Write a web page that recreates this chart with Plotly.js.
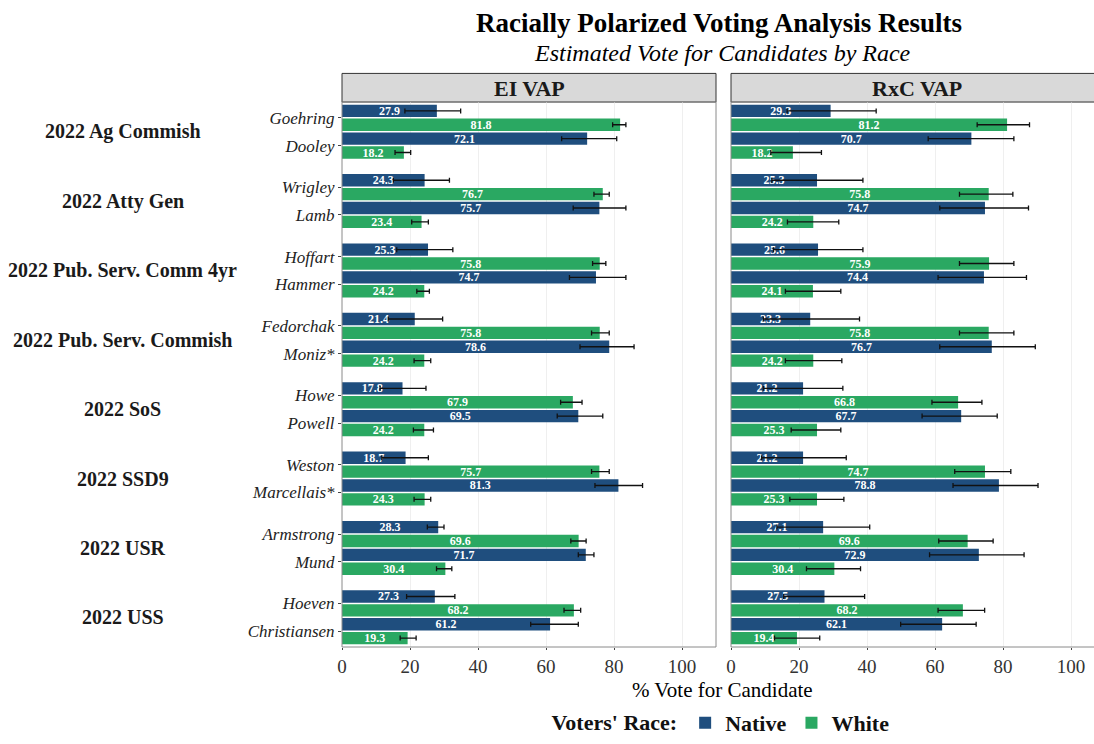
<!DOCTYPE html>
<html>
<head>
<meta charset="utf-8">
<script src="https://cdn.plot.ly/plotly-3.0.1.min.js"></script>
<style>html,body{margin:0;padding:0;background:#fff;}#chart{width:1094px;height:744px;}</style>
</head>
<body>
<div id="chart"></div>
<script>
const contests = ["2022 Ag Commish","2022 Atty Gen","2022 Pub. Serv. Comm 4yr","2022 Pub. Serv. Commish","2022 SoS","2022 SSD9","2022 USR","2022 USS"];
const candidates = ["Goehring","Dooley","Wrigley","Lamb","Hoffart","Hammer","Fedorchak","Moniz*","Howe","Powell","Weston","Marcellais*","Armstrong","Mund","Hoeven","Christiansen"];

// EI VAP
const eiNative   = [27.9,72.1, 24.3,75.7, 25.3,74.7, 21.4,78.6, 17.8,69.5, 18.7,81.3, 28.3,71.7, 27.3,61.2];
const eiNativeLo = [18.5,64.6, 15.1,68.0, 16.1,66.9, 13.6,70.0, 11.2,63.3, 11.7,74.4, 25.1,69.5, 19.0,55.5];
const eiNativeHi = [34.9,80.8, 31.6,83.5, 32.6,83.5, 29.6,85.9, 24.7,76.7, 25.4,88.4, 30.0,74.1, 33.2,69.5];
const eiWhite    = [81.8,18.2, 76.7,23.4, 75.8,24.2, 75.8,24.2, 67.9,24.2, 75.7,24.3, 69.6,30.4, 68.2,19.3];
const eiWhiteLo  = [79.6,15.6, 74.1,20.5, 73.7,22.0, 73.4,21.2, 64.3,21.0, 73.4,21.2, 67.3,27.8, 65.3,17.1];
const eiWhiteHi  = [83.5,20.2, 78.6,25.4, 77.6,25.7, 78.6,26.1, 70.6,26.9, 78.6,26.1, 71.8,32.3, 70.2,21.8];

// RxC VAP
const rxcNative   = [29.3,70.7, 25.3,74.7, 25.6,74.4, 23.3,76.7, 21.2,67.7, 21.2,78.8, 27.1,72.9, 27.5,62.1];
const rxcNativeLo = [16.5,58.0, 12.0,61.4, 12.5,60.9,  9.5,61.4,  9.5,56.2,  9.0,65.3, 13.5,58.4, 15.5,49.9];
const rxcNativeHi = [42.7,83.2, 38.8,87.5, 38.8,86.9, 37.8,89.5, 32.9,78.3, 33.9,90.3, 40.8,86.2, 39.3,72.1];
const rxcWhite    = [81.2,18.2, 75.8,24.2, 75.9,24.1, 75.8,24.2, 66.8,25.3, 74.7,25.3, 69.6,30.4, 68.2,19.4];
const rxcWhiteLo  = [72.4,11.7, 67.2,16.6, 67.2,16.0, 67.2,16.0, 59.1,17.7, 65.8,17.3, 61.1,22.2, 60.9,12.8];
const rxcWhiteHi  = [87.8,26.6, 82.9,31.7, 83.2,32.3, 83.2,32.6, 73.8,32.3, 82.3,33.2, 77.1,38.1, 74.6,26.1];

const xTicks = [0,20,40,60,80,100];

const NATIVE = '#1f4e7e';
const WHITE = '#2aa862';
const SERIF = 'Liberation Serif';

// slot positions: each contest = 4 bar slots + 1 gap slot
const nativePos = candidates.map((c,i)=>Math.floor(i/2)*5 + (i%2)*2);
const whitePos  = candidates.map((c,i)=>Math.floor(i/2)*5 + (i%2)*2 + 1);
const tickPos   = candidates.map((c,i)=>Math.floor(i/2)*5 + (i%2)*2 + 0.5);

function barTrace(vals, lo, hi, pos, name, color, xa, showleg){
  return {
    type:'bar', orientation:'h', x:vals, y:pos, width:0.9,
    name:'<b>'+name+'</b>', legendgroup:name, showlegend:showleg,
    xaxis:xa, yaxis:'y',
    marker:{color:color, line:{width:0}},
    text: vals.map(v=>v.toFixed(1)),
    texttemplate:'<b>%{text}</b>',
    textposition:'inside', insidetextanchor:'middle', constraintext:'none',
    textfont:{family:SERIF, size:12, color:'#ffffff'},
    error_x:{type:'data', symmetric:false,
      array: vals.map((v,i)=>hi[i]-v),
      arrayminus: vals.map((v,i)=>v-lo[i]),
      color:'#111111', thickness:1.3, width:2.5},
    hoverinfo:'x+name'
  };
}

const data = [
  barTrace(eiNative, eiNativeLo, eiNativeHi, nativePos, 'Native', NATIVE, 'x', true),
  barTrace(eiWhite, eiWhiteLo, eiWhiteHi, whitePos, 'White', WHITE, 'x', true),
  barTrace(rxcNative, rxcNativeLo, rxcNativeHi, nativePos, 'Native', NATIVE, 'x2', false),
  barTrace(rxcWhite, rxcWhiteLo, rxcWhiteHi, whitePos, 'White', WHITE, 'x2', false)
];

const W = 1094, H = 744, ML = 342, MR = 0, MT = 102, MB = 89;
const PW = W-ML-MR, PH = H-MT-MB;
const px2x = p => (p-ML)/PW;
const py2y = p => (H-MB-p)/PH;

const annotations = [];
contests.forEach((c,g)=>{
  annotations.push({xref:'paper', yref:'y', x:px2x(123), y:g*5+1.5, text:'<b>'+c+'</b>',
    showarrow:false, xanchor:'center', yanchor:'middle', font:{family:SERIF, size:20, color:'#1a1a1a'}});
});
annotations.push({xref:'paper', yref:'paper', x:px2x(719), y:py2y(22), text:'<b>Racially Polarized Voting Analysis Results</b>',
  showarrow:false, xanchor:'center', yanchor:'middle', font:{family:SERIF, size:27, color:'#000'}});
annotations.push({xref:'paper', yref:'paper', x:px2x(722), y:py2y(52), text:'<i>Estimated Vote for Candidates by Race</i>',
  showarrow:false, xanchor:'center', yanchor:'middle', font:{family:SERIF, size:24, color:'#000'}});
annotations.push({xref:'x domain', yref:'paper', x:0.5, y:py2y(88), text:'<b>EI VAP</b>',
  showarrow:false, xanchor:'center', yanchor:'middle', font:{family:SERIF, size:22, color:'#1a1a1a'}});
annotations.push({xref:'paper', yref:'paper', x:px2x(917), y:py2y(88), text:'<b>RxC VAP</b>',
  showarrow:false, xanchor:'center', yanchor:'middle', font:{family:SERIF, size:22, color:'#1a1a1a'}});
annotations.push({xref:'paper', yref:'paper', x:px2x(722), y:py2y(699), text:'% Vote for Candidate',
  showarrow:false, xanchor:'center', yanchor:'middle', font:{family:SERIF, size:21, color:'#000'}});

const stripTop = py2y(73);
const shapes = [
  {type:'rect', xref:'x domain', yref:'y domain', x0:0, x1:1, y0:0, y1:1, line:{color:'#8a8a8a', width:1}, layer:'above'},
  {type:'rect', xref:'x2 domain', yref:'y domain', x0:0, x1:1.05, y0:0, y1:1, line:{color:'#8a8a8a', width:1}, layer:'above'},
  {type:'rect', xref:'x domain', yref:'paper', x0:0, x1:1, y0:1, y1:stripTop, fillcolor:'#d9d9d9', line:{color:'#333', width:1}, layer:'below'},
  {type:'rect', xref:'x2 domain', yref:'paper', x0:0, x1:1.05, y0:1, y1:stripTop, fillcolor:'#d9d9d9', line:{color:'#333', width:1}, layer:'below'}
];

const xCommon = {
  tickvals:xTicks, ticktext:xTicks.map(String), showgrid:true, gridcolor:'#efefef', gridwidth:1,
  zeroline:false, showline:false, ticks:'outside', ticklen:2, tickcolor:'#444',
  tickfont:{family:SERIF, size:19, color:'#333'}, fixedrange:true
};

const layout = {
  width:W, height:H,
  font:{family:SERIF, color:'#222'},
  margin:{l:ML, r:MR, t:MT, b:MB, pad:0},
  paper_bgcolor:'#fff', plot_bgcolor:'#fff',
  barmode:'overlay',
  showlegend:true,
  xaxis:Object.assign({domain:[0, 374/PW], range:[0,110], anchor:'y'}, xCommon),
  xaxis2:Object.assign({domain:[(731-ML)/PW, 1], range:[0,(W-731)/3.4], anchor:'y'}, xCommon),
  yaxis:{range:[38.64,-0.64], tickvals:tickPos, ticktext:candidates.map(c=>'<i>'+c+'</i>'), showgrid:false, zeroline:false,
    ticks:'outside', ticklen:3, tickcolor:'#444',
    tickfont:{family:SERIF, size:17, color:'#222'}, fixedrange:true},
  legend:{orientation:'h', x:px2x(722), xanchor:'center', y:py2y(732), yanchor:'middle',
    title:{text:"<b>Voters' Race:</b>", side:'left', font:{family:SERIF, size:22, color:'#111'}},
    font:{family:SERIF, size:22, color:'#111'}, itemwidth:30, traceorder:'normal', bgcolor:'rgba(0,0,0,0)'},
  annotations:annotations,
  shapes:shapes
};

Plotly.newPlot('chart', data, layout, {displayModeBar:false, staticPlot:true});
</script>
</body>
</html>
